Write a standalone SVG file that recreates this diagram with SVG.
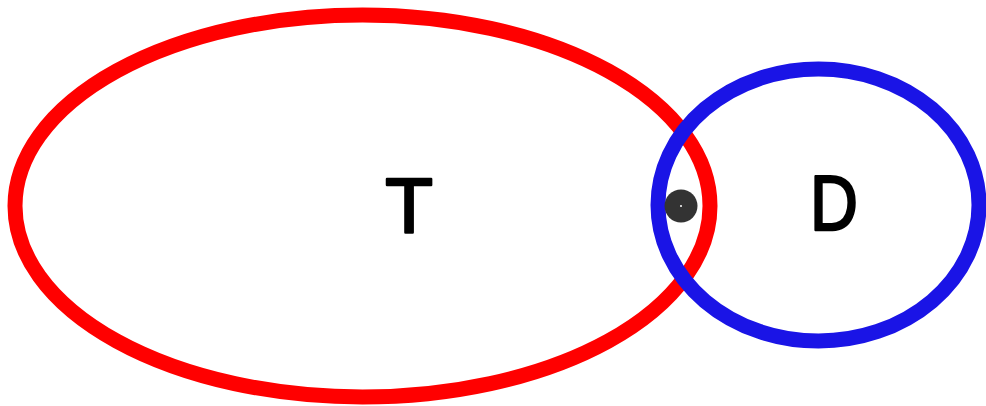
<svg xmlns="http://www.w3.org/2000/svg" width="986" height="406" viewBox="0 0 986 406">
<style>
.set{fill:none;stroke-width:15}
.lbl{font-family:"Liberation Sans",Arial,sans-serif;font-size:78px;fill:#000;stroke:#000;stroke-width:2.5;stroke-linejoin:round;text-anchor:middle}
</style>
<rect width="986" height="406" fill="#fff"/>
<g id="T">
<ellipse class="set" cx="362.5" cy="206" rx="347.5" ry="191" stroke="#ff0000"/>
<text class="lbl" x="409" y="233">T</text>
</g>
<g id="D">
<ellipse class="set" cx="818.5" cy="205" rx="160.5" ry="136" stroke="#1a14e6"/>
<text class="lbl" x="0" y="0" transform="translate(834 230) scale(0.85 1)">D</text>
</g>
<g id="point">
<circle cx="681" cy="206" r="16.5" fill="#333333"/>
<circle cx="681" cy="206" r="1" fill="#ffffff"/>
</g>
<g id="connectors"></g>
</svg>
